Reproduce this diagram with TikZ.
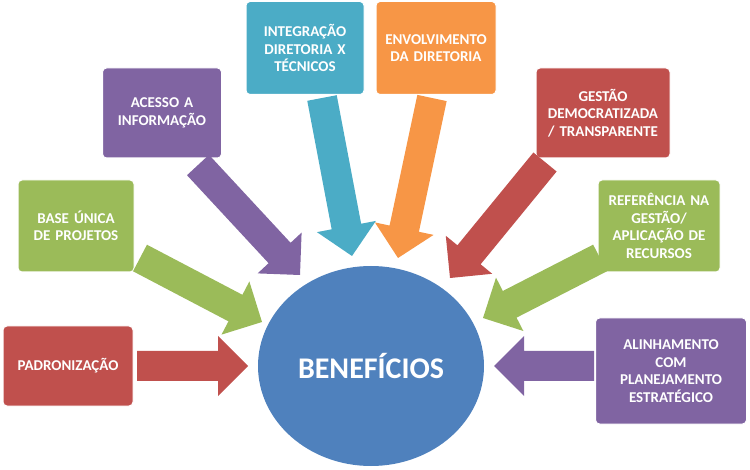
\documentclass[tikz,border=0pt]{standalone}
\usepackage{fontspec}
\setmainfont{Carlito}
\usetikzlibrary{calc,shapes.geometric}
\definecolor{cred}{HTML}{C0504D}
\definecolor{cgreen}{HTML}{9BBB59}
\definecolor{cpurple}{HTML}{8064A2}
\definecolor{cteal}{HTML}{4BACC6}
\definecolor{corange}{HTML}{F79646}
\definecolor{cblue}{HTML}{4F81BD}
\newcommand{\blockarrow}[3]{%
  \coordinate (h) at ($(#2)!30pt!(#1)$);
  \fill[#3] ($(#1)!15pt!90:(#2)$) -- ($(h)!15pt!90:(#2)$) -- ($(h)!30pt!90:(#2)$) -- (#2)
    -- ($(h)!30pt!-90:(#2)$) -- ($(h)!15pt!-90:(#2)$) -- ($(#1)!15pt!-90:(#2)$) -- cycle;}
\begin{document}
\begin{tikzpicture}[x=1pt,y=-1pt,
  box/.style={fill=#1,draw=white,line width=1pt,rounded corners=4pt,text=white,align=center,
    font=\fontsize{15}{17.5}\selectfont\bfseries,inner sep=2pt}]
\useasboundingbox (0,0) rectangle (750,470);
\node[ellipse,fill=cblue,minimum width=226,minimum height=200,text=white,
  font=\fontsize{30}{34}\selectfont\bfseries] (ben) at (371,366) {BENEFÍCIOS};
\node[box=cred,minimum width=130,minimum height=80] (pad) at (68,366) {PADRONIZAÇÃO};
\node[box=cgreen,minimum width=116,minimum height=92,text width=112] (base) at (76,226) {BASE ÚNICA\\DE PROJETOS};
\node[box=cpurple,minimum width=119,minimum height=90,text width=114] (ace) at (162,113) {ACESSO A\\INFORMAÇÃO};
\node[box=cteal,minimum width=118,minimum height=93,text width=114] (int) at (305,48) {INTEGRAÇÃO\\DIRETORIA X\\TÉCNICOS};
\node[box=corange,minimum width=120,minimum height=93,text width=116] (env) at (436,48) {ENVOLVIMENTO\\DA DIRETORIA};
\node[box=cred,minimum width=134,minimum height=90,text width=130] (ges) at (603,113) {GESTÃO\\DEMOCRATIZADA\\/ TRANSPARENTE};
\node[box=cgreen,minimum width=122,minimum height=92,text width=118] (ref) at (659,226) {REFERÊNCIA NA\\GESTÃO/\\APLICAÇÃO DE\\RECURSOS};
\node[box=cpurple,minimum width=151,minimum height=106,text width=146] (ali) at (671,371) {ALINHAMENTO\\COM\\PLANEJAMENTO\\ESTRATÉGICO};
\coordinate (a1) at (137,366); \coordinate (b1) at (248,366);
\coordinate (a2) at (140,258); \coordinate (b2) at (262,322);
\coordinate (a3) at (198,165); \coordinate (b3) at (300,275);
\coordinate (a4) at (322,98); \coordinate (b4) at (352,256);
\coordinate (a5) at (432,98); \coordinate (b5) at (398,258);
\coordinate (a6) at (545,162); \coordinate (b6) at (450,278);
\coordinate (a7) at (600,258); \coordinate (b7) at (483,318);
\coordinate (a8) at (594,366); \coordinate (b8) at (494,366);
\blockarrow{a1}{b1}{cred}
\blockarrow{a2}{b2}{cgreen}
\blockarrow{a3}{b3}{cpurple}
\blockarrow{a4}{b4}{cteal}
\blockarrow{a5}{b5}{corange}
\blockarrow{a6}{b6}{cred}
\blockarrow{a7}{b7}{cgreen}
\blockarrow{a8}{b8}{cpurple}
\end{tikzpicture}
\end{document}
